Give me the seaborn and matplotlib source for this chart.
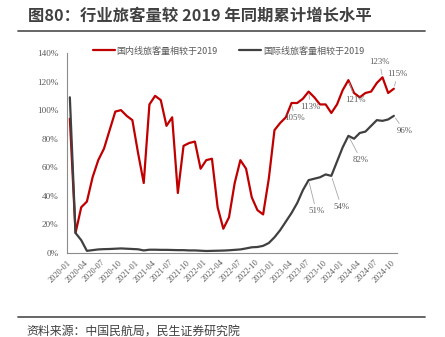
import numpy as np
import pandas as pd
import matplotlib
matplotlib.use("Agg")
import matplotlib.pyplot as plt
from matplotlib.lines import Line2D
import seaborn as sns

# ---------------- data ----------------
months = pd.period_range("2020-01", "2024-10", freq="M").strftime("%Y-%m").tolist()

domestic = [94, 14, 32, 36, 53, 65, 73, 86, 99, 100, 96, 93,
            70, 49, 104, 110, 107, 89, 95, 42, 75, 77, 78, 59,
            65, 66, 32, 17, 25, 49, 65, 59, 39, 30, 27, 52,
            86, 91, 95, 105, 105, 108, 113, 109, 104, 104, 98, 104,
            114, 121, 112, 109, 112, 113, 119, 123, 112, 115]

international = [109, 14, 9, 1.5, 2, 2.5, 2.7, 2.8, 3, 3.2, 3, 2.8,
                 2.6, 1.8, 2.3, 2.3, 2.2, 2.2, 2.1, 2, 2, 1.8, 1.8, 1.6,
                 1.4, 1.5, 1.6, 1.7, 1.9, 2.2, 2.5, 3.2, 4, 4.2, 5, 7,
                 11, 16, 22, 28, 35, 44, 51, 52, 53, 55, 54, 64,
                 74, 82, 80, 84, 85, 89, 93, 92.5, 93.5, 96]

series_names = ["国内线旅客量相较于2019", "国际线旅客量相较于2019"]
series_colors = ["#C00000", "#404040"]

# labelled points: (series index, month, text)
point_labels = [
    (0, "2023-04", "105%"), (0, "2023-07", "113%"), (0, "2024-02", "121%"),
    (0, "2024-08", "123%"), (0, "2024-10", "115%"),
    (1, "2023-07", "51%"), (1, "2023-11", "54%"), (1, "2024-02", "82%"),
    (1, "2024-10", "96%"),
]

assert len(months) == len(domestic) == len(international)

df = pd.DataFrame({
    "idx": list(range(len(months))) * 2,
    "value": domestic + international,
    "series": [series_names[0]] * len(months) + [series_names[1]] * len(months),
})

# ---------------- style ----------------
sns.set_style("white")
plt.rcParams["font.family"] = ["Noto Sans CJK SC", "DejaVu Sans"]
plt.rcParams["axes.unicode_minus"] = False

W, H = 445, 337
fig = plt.figure(figsize=(W / 100, H / 100), dpi=100)
fig.patch.set_facecolor("white")
ax = fig.add_axes([67 / W, 1 - 253 / H, (396.7 - 67) / W, 200 / H])

sns.lineplot(data=df, x="idx", y="value", hue="series", palette=series_colors,
             hue_order=series_names, linewidth=1.6, ax=ax, legend=True)

ax.set_xlim(-0.5, len(months) - 0.5)
ax.set_ylim(0, 140)
ax.set_xlabel("")
ax.set_ylabel("")

spine_col = "#8C8C8C"
tick_col = "#595959"
for s in ["top", "right"]:
    ax.spines[s].set_visible(False)
for s in ["left", "bottom"]:
    ax.spines[s].set_color(spine_col)
    ax.spines[s].set_linewidth(0.8)

yt = np.arange(0, 141, 20)
ax.set_yticks(yt)
ax.set_yticklabels([f"{v}%" for v in yt], family="Liberation Serif",
                   fontsize=6.6, color=tick_col)
ax.tick_params(axis="y", length=0, pad=6)

# boundary ticks (major) and labelled centres (minor)
lab_idx = list(range(0, len(months), 3))
ax.set_xticks([i - 0.5 for i in lab_idx])
ax.set_xticklabels([])
ax.tick_params(axis="x", which="major", length=3, width=0.8, color=spine_col)
ax.set_xticks(lab_idx, minor=True)
ax.set_xticklabels([months[i] for i in lab_idx], minor=True, rotation=45,
                   ha="right", va="center", rotation_mode="anchor",
                   family="Liberation Serif", fontsize=6, color=tick_col)
ax.tick_params(axis="x", which="minor", length=0, pad=6)

# legend
handles, labels = ax.get_legend_handles_labels()
leg = ax.legend(handles, labels, loc="center", bbox_to_anchor=(0.49, 1.01),
                ncol=2, frameon=False, fontsize=6.5, handlelength=2.4,
                handletextpad=0.2, columnspacing=2.4,
                labelcolor="#595959")

# data labels
offsets = {
    (0, "105%"): (3, -15), (0, "113%"): (2, -15), (0, "121%"): (7, -20),
    (0, "123%"): (-3, 15.5), (0, "115%"): (3.5, 14.4),
    (1, "51%"): (7.6, -31), (1, "54%"): (10, -30.8), (1, "82%"): (12.7, -24),
    (1, "96%"): (10.5, -14.8),
}
series_vals = [domestic, international]
for si, m, txt in point_labels:
    i = months.index(m)
    dx, dy = offsets[(si, txt)]
    ax.annotate(txt, xy=(i, series_vals[si][i]), xytext=(dx, dy),
                textcoords="offset pixels", ha="center", va="center",
                family="Liberation Serif", fontsize=6.3, color=tick_col,
                annotation_clip=False,
                arrowprops=dict(arrowstyle="-", color="#A6A6A6", lw=0.6,
                                shrinkA=0, shrinkB=2))

# title, rules and source
fig.text(28 / W, 1 - 15.5 / H, "图80：行业旅客量较 2019 年同期累计增长水平",
         ha="left", va="center", fontsize=11.75, fontweight="bold", color="#404040")
fig.add_artist(Line2D([18 / W, 425 / W], [1 - 30.7 / H] * 2, color="#595959", lw=1.3))
fig.add_artist(Line2D([18 / W, 425 / W], [1 - 317.3 / H] * 2, color="#595959", lw=1.3))
fig.text(26.7 / W, 1 - 331.5 / H, "资料来源：中国民航局，民生证券研究院",
         ha="left", va="center", fontsize=8.6, color="#404040")

fig.savefig("out.png", dpi=100, facecolor="white")
